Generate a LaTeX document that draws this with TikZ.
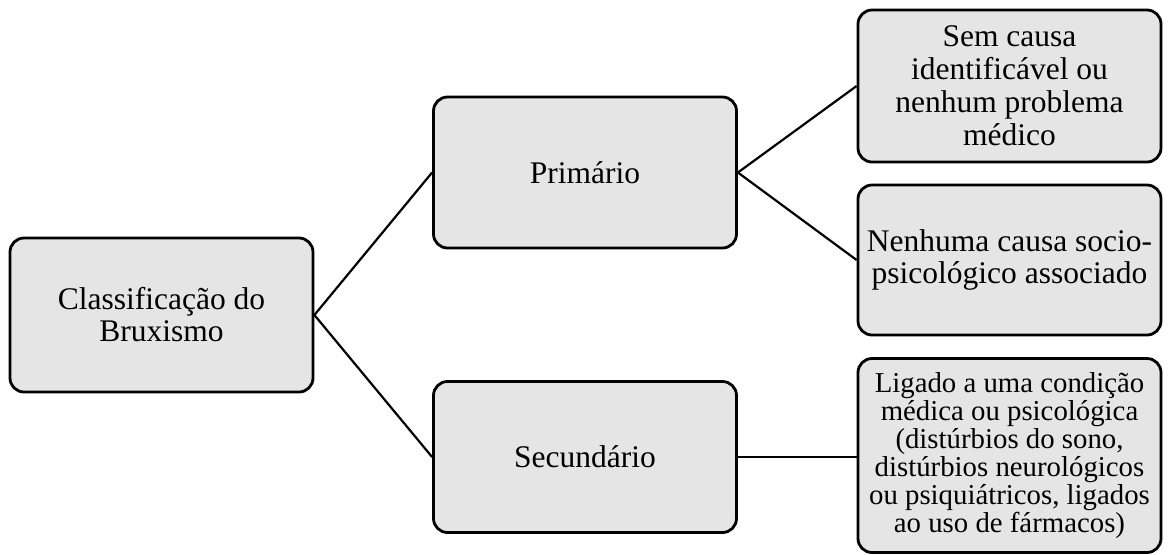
\documentclass[tikz,border=0pt]{standalone}
\usepackage{fontspec}
\setmainfont{Liberation Serif}
\usetikzlibrary{positioning}

\tikzset{
  caixa/.style={draw, line width=1.4pt, rounded corners=7pt, fill=black!10,
    align=center, minimum width=151.5pt, inner sep=1pt,
    font=\fontsize{15.75}{16}\selectfont},
  ligacao/.style={line width=1.1pt}
}

\begin{document}
\begin{tikzpicture}[x=0.5pt, y=-0.5pt]
    \useasboundingbox (0,0) rectangle (1168,554);

    % Caixas
    \node[caixa, minimum height=77pt] (raiz) at (161.5,315) {Classificação do\\Bruxismo};
    \node[caixa, minimum height=75.5pt] (prim) at (585,172.5) {Primário};
    \node[caixa, minimum height=75.5pt] (sec) at (585,457) {Secundário};
    \node[caixa, minimum height=76pt, font=\fontsize{15.75}{16.5}\selectfont] (semcausa) at (1009.5,86)
        {Sem causa\\identificável ou\\nenhum problema\\médico};
    \node[caixa, minimum height=75pt] (nenhuma) at (1009.5,260)
        {Nenhuma causa socio-\\psicológico associado};
    \node[caixa, minimum height=97pt, font=\fontsize{14.4}{14}\selectfont] (ligado) at (1009.5,455.5)
        {Ligado a uma condição\\médica ou psicológica\\(distúrbios do sono,\\distúrbios neurológicos\\ou psiquiátricos, ligados\\ao uso de fármacos)};

    % Ligações
    \draw[ligacao] (raiz.east) -- (prim.west);
    \draw[ligacao] (raiz.east) -- (sec.west);
    \draw[ligacao] (prim.east) -- (semcausa.west);
    \draw[ligacao] (prim.east) -- (nenhuma.west);
    \draw[ligacao] (sec.east) -- (sec.east -| ligado.west);
\end{tikzpicture}
\end{document}
